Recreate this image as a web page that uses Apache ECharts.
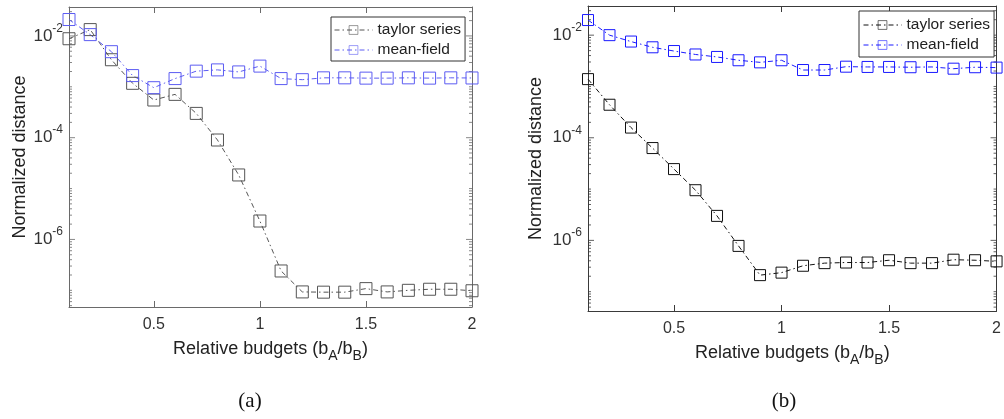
<!DOCTYPE html>
<html><head><meta charset="utf-8">
<script src="https://cdn.jsdelivr.net/npm/echarts@6/dist/echarts.min.js"></script>
<style>html,body{margin:0;padding:0;background:#fff}#c{width:1004px;height:419px}</style>
</head><body><div id="c"></div>
<script>
// ---- data ----
const budgets = [0.1, 0.2, 0.3, 0.4, 0.5, 0.6, 0.7, 0.8, 0.9, 1.0, 1.1, 1.2, 1.3, 1.4, 1.5, 1.6, 1.7, 1.8, 1.9, 2.0];
const taylorA = [8.8e-3, 1.33e-2, 3.4e-3, 1.17e-3, 5.5e-4, 7.1e-4, 3.0e-4, 9.0e-5, 1.85e-5, 2.3e-6, 2.4e-7, 9.3e-8, 9.2e-8, 9.2e-8, 1.08e-7, 9.3e-8, 1.0e-7, 1.05e-7, 1.05e-7, 9.8e-8];
const meanFieldA = [2.1e-2, 1.06e-2, 4.9e-3, 1.66e-3, 9.6e-4, 1.45e-3, 2.03e-3, 2.15e-3, 1.96e-3, 2.55e-3, 1.45e-3, 1.38e-3, 1.5e-3, 1.5e-3, 1.48e-3, 1.48e-3, 1.5e-3, 1.48e-3, 1.5e-3, 1.49e-3];
const taylorB = [1.39e-3, 4.4e-4, 1.58e-4, 6.3e-5, 2.45e-5, 9.5e-6, 3.0e-6, 7.8e-7, 2.1e-7, 2.35e-7, 3.2e-7, 3.6e-7, 3.7e-7, 3.7e-7, 4.1e-7, 3.6e-7, 3.6e-7, 4.2e-7, 4.1e-7, 3.9e-7];
const meanFieldB = [1.97e-2, 1.0e-2, 7.5e-3, 5.8e-3, 4.9e-3, 4.2e-3, 3.76e-3, 3.24e-3, 2.95e-3, 3.24e-3, 2.09e-3, 2.09e-3, 2.43e-3, 2.4e-3, 2.4e-3, 2.37e-3, 2.4e-3, 2.22e-3, 2.37e-3, 2.33e-3];
const xTickValues = [0.5, 1, 1.5, 2];
const yLabelExponents = [-2, -4, -6];
const seriesNames = ['taylor series', 'mean-field'];
const panelLabels = ['(a)', '(b)'];

const X_MIN = 0.1, X_MAX = 2;
const Y_RANGE = [[4.7e-8, 0.037], [4.2e-8, 0.037]];
const FONT = '"Liberation Sans", Arial, Helvetica, sans-serif';

function pair(xs, ys) { return xs.map((x, i) => [x, ys[i]]); }

// y tick positions (values) on a log axis: major at labelled decades, minor at k*10^n
function logTickValues(min, max, major) {
  const out = [];
  for (let e = -10; e <= 1; e++) {
    for (let k = 1; k <= 9; k++) {
      const v = k * Math.pow(10, e);
      if (v < min * 0.9999 || v > max * 1.0001) continue;
      const isMajor = k === 1 && yLabelExponents.indexOf(e) >= 0;
      if (isMajor === major) out.push(v);
    }
  }
  return out;
}

function powFmt(v) {
  const l = Math.log10(v), e = Math.round(l);
  if (Math.abs(l - e) > 1e-6 || yLabelExponents.indexOf(e) < 0) return '';
  return '10{sup|' + e + '}';
}

const panels = [
  { axis: '#6a6a6a', c1: '#555555', c2: '#5c5cf2', size: 12, nameGapY: 40, nameGapX: 29 },
  { axis: '#3a3a3a', c1: '#111111', c2: '#1a1aff', size: 11, nameGapY: 43, nameGapX: 27 }
];

const xAxis = [], yAxis = [], series = [];
panels.forEach((p, g) => {
  xAxis.push({
    gridIndex: g, type: 'value', min: X_MIN, max: X_MAX, position: 'bottom',
    axisLine: { show: true, lineStyle: { color: p.axis, width: 1 } },
    axisTick: { show: true, inside: true, length: 6, customValues: xTickValues, lineStyle: { color: p.axis } },
    axisLabel: { customValues: xTickValues, fontSize: 16, color: '#333', margin: 10, fontFamily: FONT },
    splitLine: { show: false },
    name: 'Relative budgets (b{sub|A}/b{sub|B})', nameLocation: 'middle', nameGap: p.nameGapX,
    nameTextStyle: { fontSize: 18, color: '#222', fontFamily: FONT, lineHeight: 22,
      rich: { sub: { fontSize: 14, padding: [15, 0, 0, 0], verticalAlign: 'middle', color: '#222', fontFamily: FONT } } }
  });
  xAxis.push({
    gridIndex: g, type: 'value', min: X_MIN, max: X_MAX, position: 'top',
    axisLine: { show: true, lineStyle: { color: p.axis, width: 1 } },
    axisTick: { show: true, inside: true, length: 6, customValues: xTickValues, lineStyle: { color: p.axis } },
    axisLabel: { show: false }, splitLine: { show: false }
  });
  yAxis.push({
    gridIndex: g, type: 'log', logBase: 10, min: Y_RANGE[g][0], max: Y_RANGE[g][1], position: 'left',
    axisLine: { show: true, lineStyle: { color: p.axis, width: 1 } },
    axisTick: { show: false }, minorTick: { show: false }, splitLine: { show: false },
    axisLabel: { formatter: powFmt, fontSize: 17, lineHeight: 22, color: '#333', margin: 6, fontFamily: FONT,
      rich: { sup: { fontSize: 12, padding: [0, 0, 15, 0], verticalAlign: 'middle', color: '#333', fontFamily: FONT } } },
    name: 'Normalized distance', nameLocation: 'middle', nameGap: p.nameGapY,
    nameTextStyle: { fontSize: 18, color: '#222', fontFamily: FONT }
  });
  yAxis.push({
    gridIndex: g, type: 'log', logBase: 10, min: Y_RANGE[g][0], max: Y_RANGE[g][1], position: 'right',
    axisLine: { show: true, lineStyle: { color: p.axis, width: 1 } },
    axisTick: { show: false }, axisLabel: { show: false }, splitLine: { show: false }
  });
  const t = g === 0 ? taylorA : taylorB;
  const m = g === 0 ? meanFieldA : meanFieldB;
  [[t, p.c1, seriesNames[0]], [m, p.c2, seriesNames[1]]].forEach(([vals, col, nm]) => {
    series.push({
      type: 'line', name: nm + (g === 0 ? ' a' : ' b'), xAxisIndex: g * 2, yAxisIndex: g * 2,
      data: pair(budgets, vals), symbol: 'rect', symbolSize: p.size, showAllSymbol: true, clip: false,
      itemStyle: { color: 'rgba(255,255,255,0)', borderColor: col, borderWidth: 1 },
      lineStyle: { color: col, width: 1, type: [5, 3, 1.5, 3] },
      emphasis: { disabled: true }, z: 3
    });
  });
  // y-axis tick marks (inside, both sides), drawn as tiny bars placed through the axis scale
  [[true, 6], [false, 3]].forEach(([major, len]) => {
    const vals = logTickValues(Y_RANGE[g][0], Y_RANGE[g][1], major);
    [[X_MIN, len / 2], [X_MAX, -len / 2]].forEach(([xv, off]) => {
      series.push({
        type: 'scatter', xAxisIndex: g * 2, yAxisIndex: g * 2, silent: true, clip: false,
        data: vals.map(v => [xv, v]), symbol: 'rect', symbolSize: [len, 1], symbolOffset: [off, 0],
        itemStyle: { color: p.axis }, emphasis: { disabled: true }, z: 2
      });
    });
  });
});

const legendBase = {
  orient: 'vertical', itemWidth: 38, itemHeight: 11, itemGap: 2,
  borderColor: '#333', borderWidth: 1, borderRadius: 0, backgroundColor: '#fff',
  textStyle: { fontSize: 15.5, color: '#222', fontFamily: FONT, lineHeight: 18 },
  itemStyle: { borderWidth: 0.6 },
  lineStyle: { width: 1 },
  selectedMode: false, formatter: n => n.slice(0, -2)
};

const option = {
  animation: false,
  grid: [
    { left: 69, top: 7, width: 403, height: 300 },
    { left: 588, top: 6, width: 410, height: 305 }
  ],
  xAxis, yAxis, series,
  legend: [
    Object.assign({}, legendBase, { data: seriesNames.map(s => s + ' a'), left: 331, top: 17, padding: [4, 4, 2, 3] }),
    Object.assign({}, legendBase, { data: seriesNames.map(s => s + ' b'), left: 859, top: 11, padding: [5, 4, 3, 4] })
  ],
  graphic: [
    { type: 'text', x: 250, y: 401, style: { text: panelLabels[0], fontSize: 21, fontFamily: '"Liberation Serif", "Times New Roman", serif', fill: '#111', align: 'center', verticalAlign: 'middle' } },
    { type: 'text', x: 784, y: 401, style: { text: panelLabels[1], fontSize: 21, fontFamily: '"Liberation Serif", "Times New Roman", serif', fill: '#111', align: 'center', verticalAlign: 'middle' } }
  ]
};

echarts.init(document.getElementById('c'), null, { renderer: 'canvas' }).setOption(option);
</script>
</body></html>
